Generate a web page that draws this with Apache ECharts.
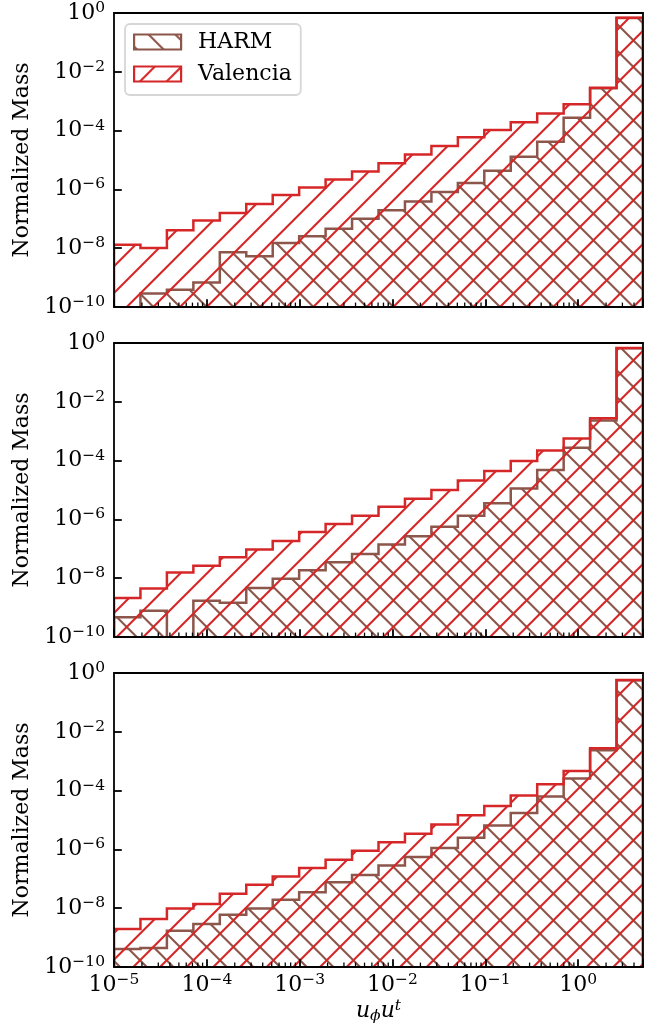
<!DOCTYPE html>
<html>
<head>
<meta charset="utf-8">
<script src="https://cdn.jsdelivr.net/npm/echarts@6/dist/echarts.min.js"></script>
<style>
  html, body { margin: 0; padding: 0; background: #fff; }
  #chart { width: 657px; height: 1031px; }
</style>
</head>
<body>
<div id="chart"></div>
<script>
// Histogram bin edges in u_phi u^t (20 log-spaced bins from 1e-5 to 5)
const binEdges = [1.0e-5, 1.927e-5, 3.715e-5, 7.161e-5, 1.380e-4, 2.660e-4, 5.127e-4, 9.877e-4,
  1.904e-3, 3.670e-3, 7.074e-3, 1.363e-2, 2.627e-2, 5.065e-2, 9.756e-2, 0.1880, 0.3624,
  0.6986, 1.346, 2.594, 5.0];

// Normalized mass per bin (0 = empty bin)
const harmTop = [0, 2.88e-10, 3.89e-10, 6.76e-10, 7.24e-9, 5.37e-9, 1.51e-8, 2.57e-8, 4.57e-8,
  1.0e-7, 1.95e-7, 3.89e-7, 8.13e-7, 1.66e-6, 4.27e-6, 1.29e-5, 4.17e-5, 2.75e-4, 2.75e-3, 0.676];
const valenciaTop = [1.32e-8, 1.02e-8, 4.07e-8, 8.71e-8, 1.58e-7, 3.16e-7, 6.46e-7, 1.17e-6, 2.19e-6,
  4.07e-6, 7.76e-6, 1.55e-5, 3.02e-5, 5.89e-5, 1.05e-4, 1.91e-4, 3.80e-4, 7.94e-4, 2.88e-3, 0.692];

const harmMid = [4.68e-10, 7.76e-10, 0, 1.70e-9, 1.45e-9, 4.68e-9, 9.55e-9, 1.86e-8, 3.47e-8,
  6.61e-8, 1.41e-7, 2.69e-7, 5.62e-7, 1.32e-6, 3.55e-6, 1.12e-5, 4.79e-5, 2.75e-4, 2.29e-3, 0.661];
const valenciaMid = [2.14e-9, 4.47e-9, 1.55e-8, 2.63e-8, 5.13e-8, 9.55e-8, 1.86e-7, 3.72e-7, 6.92e-7,
  1.32e-6, 2.69e-6, 5.01e-6, 1.0e-5, 2.09e-5, 4.47e-5, 9.77e-5, 2.19e-4, 5.62e-4, 2.75e-3, 0.676];

const harmBottom = [4.07e-10, 4.47e-10, 1.70e-9, 2.88e-9, 6.03e-9, 9.77e-9, 1.95e-8, 3.47e-8, 7.59e-8,
  1.35e-7, 2.82e-7, 5.50e-7, 1.12e-6, 2.51e-6, 6.46e-6, 1.74e-5, 6.31e-5, 2.57e-4, 2.34e-3, 0.562];
const valenciaBottom = [1.95e-9, 4.27e-9, 9.77e-9, 1.38e-8, 3.09e-8, 6.31e-8, 1.20e-7, 2.34e-7, 4.47e-7,
  8.91e-7, 1.74e-6, 3.39e-6, 7.08e-6, 1.45e-5, 3.02e-5, 6.76e-5, 1.66e-4, 4.68e-4, 2.75e-3, 0.575];

// Axis ticks
const xTickExponents = [-5, -4, -3, -2, -1, 0];
const yTickExponents = [-10, -8, -6, -4, -2, 0];
const xMinorTicks = [
  2e-5, 3e-5, 4e-5, 5e-5, 6e-5, 7e-5, 8e-5, 9e-5,
  2e-4, 3e-4, 4e-4, 5e-4, 6e-4, 7e-4, 8e-4, 9e-4,
  2e-3, 3e-3, 4e-3, 5e-3, 6e-3, 7e-3, 8e-3, 9e-3,
  2e-2, 3e-2, 4e-2, 5e-2, 6e-2, 7e-2, 8e-2, 9e-2,
  2e-1, 3e-1, 4e-1, 5e-1, 6e-1, 7e-1, 8e-1, 9e-1,
  2, 3, 4];

const FONT = 'DejaVu Serif';
const HARM_COLOR = '#8c564b';
const VALENCIA_COLOR = '#d62728';
const Y_MIN = 1e-10, Y_MAX = 1, X_MIN = 1e-5, X_MAX = 5;

// Diagonal hatch tile, repeated from the canvas origin
function makeHatchTile(color, dir) {
  const size = 80, step = size / 3;
  const cv = document.createElement('canvas');
  cv.width = size; cv.height = size;
  const g = cv.getContext('2d');
  g.strokeStyle = color;
  g.lineWidth = 2.1;
  g.beginPath();
  if (dir === '/') {
    for (let k = -5; k <= 11; k++) {
      const c = 7 + k * step;             // x + y = c
      g.moveTo(c + 20, -20); g.lineTo(c - 100, 100);
    }
  } else {
    for (let k = -8; k <= 8; k++) {
      const c = 6.4 + k * step;           // x - y = c
      g.moveTo(-20, -20 - c); g.lineTo(100, 100 - c);
    }
  }
  g.stroke();
  return cv;
}
const harmTile = makeHatchTile(HARM_COLOR, '\\');
const valenciaTile = makeHatchTile(VALENCIA_COLOR, '/');
const harmHatch = { image: harmTile, repeat: 'repeat' };
const valenciaHatch = { image: valenciaTile, repeat: 'repeat' };
// legend swatches sit inside translated groups; shift the tile back to the page origin
const harmLegendHatch = { image: harmTile, repeat: 'repeat', x: -133, y: -34.5 };
const valenciaLegendHatch = { image: valenciaTile, repeat: 'repeat', x: -133, y: -66.5 };

const panels = [
  { top: 13, harm: harmTop, valencia: valenciaTop },
  { top: 343, harm: harmMid, valencia: valenciaMid },
  { top: 673, harm: harmBottom, valencia: valenciaBottom }
];

function supLabel(exp) {
  const e = exp < 0 ? '\u2212' + (-exp) : String(exp);
  return '{b|10}{s|' + e + '}';
}
const labelRich = {
  b: { fontFamily: FONT, fontSize: 22, lineHeight: 26, color: '#000' },
  s: { fontFamily: FONT, fontSize: 15.5, lineHeight: 15, verticalAlign: 'top', color: '#000' }
};

// Step outline + hatched fill of one histogram
function histSeries(name, idx, values, color, hatch) {
  return {
    type: 'custom',
    name: name,
    xAxisIndex: idx,
    yAxisIndex: idx,
    clip: true,
    silent: true,
    z: 2,
    data: [[binEdges[0], Y_MAX]],
    renderItem: function (params, api) {
      const floor = Y_MIN / 10;
      const pts = [api.coord([binEdges[0], floor])];
      values.forEach(function (v, i) {
        const y = v > 0 ? v : floor;
        pts.push(api.coord([binEdges[i], y]));
        pts.push(api.coord([binEdges[i + 1], y]));
      });
      pts.push(api.coord([binEdges[binEdges.length - 1], floor]));
      return {
        type: 'group',
        children: [
          { type: 'polygon', shape: { points: pts }, style: { fill: hatch, stroke: null } },
          { type: 'polyline', shape: { points: pts },
            style: { fill: null, stroke: color, lineWidth: 2.5, lineJoin: 'miter' } }
        ]
      };
    }
  };
}

function minorTickSeries(idx) {
  return {
    type: 'custom',
    xAxisIndex: idx,
    yAxisIndex: idx,
    silent: true,
    z: 20,
    data: xMinorTicks.map(function (v) { return [v, Y_MIN]; }),
    renderItem: function (params, api) {
      const p = api.coord([api.value(0), api.value(1)]);
      return { type: 'line', shape: { x1: p[0], y1: p[1], x2: p[0], y2: p[1] - 4.4 },
        style: { stroke: '#000', lineWidth: 1.3 } };
    }
  };
}

const axisLine = { show: true, onZero: false, lineStyle: { color: '#000', width: 1.8 } };
const majorTick = { show: true, inside: true, length: 7.8, lineStyle: { color: '#000', width: 1.8 } };

const grids = [], xAxes = [], yAxes = [], series = [];
panels.forEach(function (p, i) {
  grids.push({ left: 114, width: 529, top: p.top, height: 294 });
  const isLast = i === panels.length - 1;
  xAxes.push({
    type: 'log', gridIndex: i, min: X_MIN, max: X_MAX, interval: 1, z: 10,
    axisLine: axisLine, axisTick: majorTick, splitLine: { show: false }, minorTick: { show: false },
    axisLabel: {
      show: isLast, margin: 5, showMinLabel: true, showMaxLabel: true,
      formatter: function (v) {
        const e = Math.log10(v), r = Math.round(e);
        return (Math.abs(e - r) < 1e-6 && xTickExponents.indexOf(r) >= 0) ? supLabel(r) : '';
      },
      rich: labelRich
    },
    name: isLast ? '{i|u}{sb|\u03d5}{i|u}{sp|t}' : '',
    nameLocation: 'middle',
    nameGap: 31,
    nameTextStyle: {
      rich: {
        i: { fontFamily: FONT, fontStyle: 'italic', fontSize: 22, lineHeight: 26, color: '#000' },
        sb: { fontFamily: FONT, fontStyle: 'italic', fontSize: 15.5, lineHeight: 15, verticalAlign: 'bottom', color: '#000' },
        sp: { fontFamily: FONT, fontStyle: 'italic', fontSize: 15.5, lineHeight: 15, verticalAlign: 'top', color: '#000' }
      }
    }
  });
  yAxes.push({
    type: 'log', gridIndex: i, min: Y_MIN, max: Y_MAX, interval: 2, z: 10,
    axisLine: axisLine, axisTick: majorTick, splitLine: { show: false }, minorTick: { show: false },
    axisLabel: {
      margin: 9, showMinLabel: true, showMaxLabel: true,
      formatter: function (v) {
        const r = Math.round(Math.log10(v));
        return yTickExponents.indexOf(r) >= 0 ? supLabel(r) : '';
      },
      rich: labelRich
    },
    name: 'Normalized Mass',
    nameLocation: 'middle',
    nameGap: 81,
    nameRotate: 90,
    nameTextStyle: { fontFamily: FONT, fontSize: 22, color: '#000' }
  });
  series.push(histSeries('HARM', i, p.harm, HARM_COLOR, harmHatch));
  series.push(histSeries('Valencia', i, p.valencia, VALENCIA_COLOR, valenciaHatch));
  series.push(minorTickSeries(i));
});
// top and right frame lines
panels.forEach(function (p, i) {
  xAxes.push({ type: 'log', gridIndex: i, position: 'top', min: X_MIN, max: X_MAX, z: 10,
    axisLine: axisLine, axisTick: { show: false }, axisLabel: { show: false }, splitLine: { show: false } });
  yAxes.push({ type: 'log', gridIndex: i, position: 'right', min: Y_MIN, max: Y_MAX, z: 10,
    axisLine: axisLine, axisTick: { show: false }, axisLabel: { show: false }, splitLine: { show: false } });
});

const chart = echarts.init(document.getElementById('chart'), null, { renderer: 'canvas' });
chart.setOption({
  animation: false,
  backgroundColor: '#fff',
  textStyle: { fontFamily: FONT },
  grid: grids,
  xAxis: xAxes,
  yAxis: yAxes,
  legend: {
    left: 125, top: 24, orient: 'vertical',
    padding: [4, 9, 7, 8],
    itemGap: 4, itemWidth: 47, itemHeight: 15,
    backgroundColor: 'rgba(255,255,255,0.8)',
    borderColor: 'rgba(204,204,204,0.8)', borderWidth: 1.8, borderRadius: 5,
    selectedMode: false,
    textStyle: { fontFamily: FONT, fontSize: 22, color: '#000', lineHeight: 28, padding: [0, 0, 0, 12] },
    data: [
      { name: 'HARM', icon: 'rect', itemStyle: { color: harmLegendHatch, borderColor: HARM_COLOR, borderWidth: 2.2 } },
      { name: 'Valencia', icon: 'rect', itemStyle: { color: valenciaLegendHatch, borderColor: VALENCIA_COLOR, borderWidth: 2.2 } }
    ]
  },
  series: series
});
</script>
</body>
</html>
